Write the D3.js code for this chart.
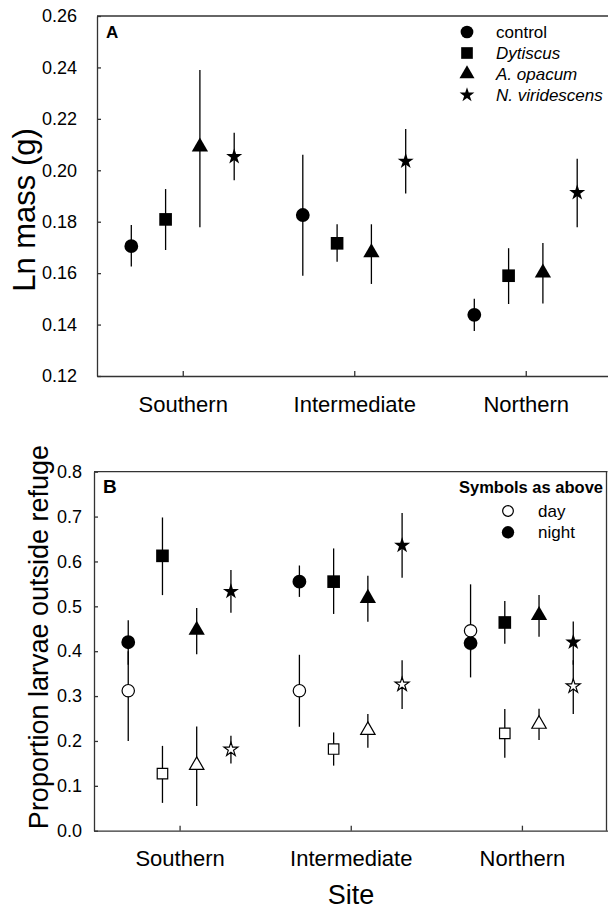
<!DOCTYPE html>
<html>
<head>
<meta charset="utf-8">
<script src="https://cdn.jsdelivr.net/npm/d3@7"></script>
<style>
  body { margin: 0; background: #fff; }
  svg { font-family: "Liberation Sans", Arial, sans-serif; }
</style>
</head>
<body>
<div id="chart"></div>
<script>
var w = 608;
var h = 911;

var sites = ["Southern", "Intermediate", "Northern"];
var treatments = ["control", "Dytiscus", "A. opacum", "N. viridescens"];

// panel A: ln mass, [site][treatment]
var massMean = [[0.1705, 0.1809, 0.2091, 0.2053], [0.1826, 0.1716, 0.168, 0.2035], [0.1438, 0.159, 0.1601, 0.1913]];
var massLo = [[0.1626, 0.169, 0.1778, 0.1961], [0.159, 0.1644, 0.1558, 0.191], [0.1375, 0.148, 0.1482, 0.1778]];
var massHi = [[0.1787, 0.1927, 0.239, 0.2146], [0.206, 0.179, 0.179, 0.2161], [0.150, 0.1697, 0.1717, 0.2045]];

// panel B: proportion outside refuge
var nightMean = [[0.42, 0.6125, 0.447, 0.533], [0.555, 0.555, 0.518, 0.6356], [0.418, 0.464, 0.48, 0.42]];
var nightLo = [[0.37, 0.525, 0.393, 0.4855], [0.521, 0.483, 0.4655, 0.5635], [0.3416, 0.4166, 0.432, 0.37]];
var nightHi = [[0.469, 0.698, 0.496, 0.581], [0.591, 0.629, 0.568, 0.708], [0.46, 0.5116, 0.525, 0.466]];
var dayMean = [[0.312, 0.127, 0.146, 0.181], [0.312, 0.182, 0.224, 0.326], [0.4455, 0.217, 0.2376, 0.322]];
var dayLo = [[0.2, 0.062, 0.055, 0.15], [0.2316, 0.145, 0.185, 0.271], [0.4, 0.1626, 0.202, 0.26]];
var dayHi = [[0.4, 0.189, 0.232, 0.2116], [0.392, 0.219, 0.26, 0.38], [0.549, 0.271, 0.272, 0.38]];

var massTicks = [0.12, 0.14, 0.16, 0.18, 0.2, 0.22, 0.24, 0.26];
var propTicks = [0, 0.1, 0.2, 0.3, 0.4, 0.5, 0.6, 0.7, 0.8];

var shapes = [d3.symbolCircle, d3.symbolSquare, d3.symbolTriangle, d3.symbolStar];
var bigSizes = [150, 160, 115, 80];
var smallSizes = [120, 110, 90, 60];

var svg = d3.select("#chart").append("svg").attr("width", w).attr("height", h);

function flatten(mean, lo, hi) {
  var out = [];
  sites.forEach(function (s, i) {
    treatments.forEach(function (t, j) {
      out.push({ site: i + 1, k: j, v: mean[i][j], lo: lo[i][j], hi: hi[i][j] });
    });
  });
  return out;
}

function drawPanel(opts) {
  var x = d3.scaleLinear().domain([0.5, 3.5]).range(opts.xr);
  var y = d3.scaleLinear().domain(opts.yd).range(opts.yr);
  var g = svg.append("g");

  var yAxis = d3.axisLeft(y).tickValues(opts.ticks).tickFormat(d3.format(opts.fmt))
    .tickSizeInner(-4).tickSizeOuter(0).tickPadding(opts.pad);
  var ya = g.append("g").attr("transform", "translate(" + opts.xr[0] + ",0)").call(yAxis);
  ya.selectAll("text").attr("font-size", "18px").attr("fill", "#000");

  var xAxis = d3.axisBottom(x).tickValues([1, 2, 3]).tickFormat(function (d) { return sites[d - 1]; })
    .tickSizeInner(-5).tickSizeOuter(0).tickPadding(20);
  var xa = g.append("g").attr("transform", "translate(0," + opts.yr[0] + ")").call(xAxis);
  xa.selectAll("text").attr("font-size", "22px").attr("fill", "#000");

  g.selectAll(".domain, .tick line").attr("stroke", "#333").attr("stroke-width", 1.3);

  g.append("line").attr("x1", opts.xr[0]).attr("x2", opts.xr[1])
    .attr("y1", opts.yr[1]).attr("y2", opts.yr[1]).attr("stroke", "#333").attr("stroke-width", 1.3);
  if (opts.rightLine) {
    g.append("line").attr("x1", opts.xr[1] - 1).attr("x2", opts.xr[1] - 1)
      .attr("y1", opts.yr[1]).attr("y2", opts.yr[0]).attr("stroke", "#333").attr("stroke-width", 1.3);
  }

  function px(d) { return x(d.site + (d.k - 1.5) * 0.2); }

  opts.series.forEach(function (s) {
    g.append("g").selectAll("line").data(s.data).enter().append("line")
      .attr("x1", px).attr("x2", px)
      .attr("y1", function (d) { return y(d.lo); })
      .attr("y2", function (d) { return y(d.hi); })
      .attr("stroke", "#000").attr("stroke-width", 1.3);
  });
  opts.series.forEach(function (s) {
    g.append("g").selectAll("path").data(s.data).enter().append("path")
      .attr("d", function (d) { return d3.symbol().type(shapes[d.k]).size(s.sizes[d.k])(); })
      .attr("transform", function (d) { return "translate(" + px(d) + "," + y(d.v) + ")"; })
      .attr("fill", s.open ? "#fff" : "#000")
      .attr("stroke", "#000").attr("stroke-width", s.open ? 1.2 : 0);
  });

  g.append("text").attr("x", opts.xr[0] + 9).attr("y", opts.labelY)
    .attr("font-size", opts.labelSize).attr("font-weight", "bold").text(opts.label);
  return g;
}

var gA = drawPanel({
  xr: [97, 611.5], yr: [376, 16], yd: [0.12, 0.26], ticks: massTicks, fmt: ".2f", pad: 20,
  label: "A", labelY: 38, labelSize: "17px", rightLine: false,
  series: [{ data: flatten(massMean, massLo, massHi), sizes: bigSizes, open: false }]
});

var gB = drawPanel({
  xr: [94, 607.5], yr: [830.7, 471.7], yd: [0, 0.8], ticks: propTicks, fmt: ".1f", pad: 12,
  label: "B", labelY: 493, labelSize: "19px", rightLine: true,
  series: [
    { data: flatten(nightMean, nightLo, nightHi), sizes: bigSizes, open: false },
    { data: flatten(dayMean, dayLo, dayHi), sizes: smallSizes, open: true }
  ]
});

// legend A
var legA = svg.append("g");
treatments.forEach(function (t, i) {
  var yy = 32 + i * 21;
  legA.append("path").attr("d", d3.symbol().type(shapes[i]).size(bigSizes[i] * 0.85)())
    .attr("transform", "translate(467," + yy + ")").attr("fill", "#000");
  legA.append("text").attr("x", 496).attr("y", yy + 6).attr("font-size", "17px")
    .attr("font-style", i === 0 ? "normal" : "italic").text(t);
});

// legend B
var legB = svg.append("g");
legB.append("text").attr("x", 603).attr("y", 493).attr("text-anchor", "end")
  .attr("font-size", "16.5px").attr("font-weight", "bold").text("Symbols as above");
[["day", true], ["night", false]].forEach(function (r, i) {
  var yy = 511 + i * 21.3;
  legB.append("path").attr("d", d3.symbol().type(d3.symbolCircle).size(r[1] ? 90 : 120)())
    .attr("transform", "translate(508," + yy + ")")
    .attr("fill", r[1] ? "#fff" : "#000").attr("stroke", "#000").attr("stroke-width", r[1] ? 1.2 : 0);
  legB.append("text").attr("x", 538).attr("y", yy + 6).attr("font-size", "17px").text(r[0]);
});

// axis titles
svg.append("text").attr("transform", "translate(35,210) rotate(-90)").attr("text-anchor", "middle")
  .attr("font-size", "31px").text("Ln mass (g)");
svg.append("text").attr("transform", "translate(48,637) rotate(-90)").attr("text-anchor", "middle")
  .attr("font-size", "27px").text("Proportion larvae outside refuge");
svg.append("text").attr("x", 351).attr("y", 904).attr("text-anchor", "middle")
  .attr("font-size", "27px").text("Site");
</script>
</body>
</html>
